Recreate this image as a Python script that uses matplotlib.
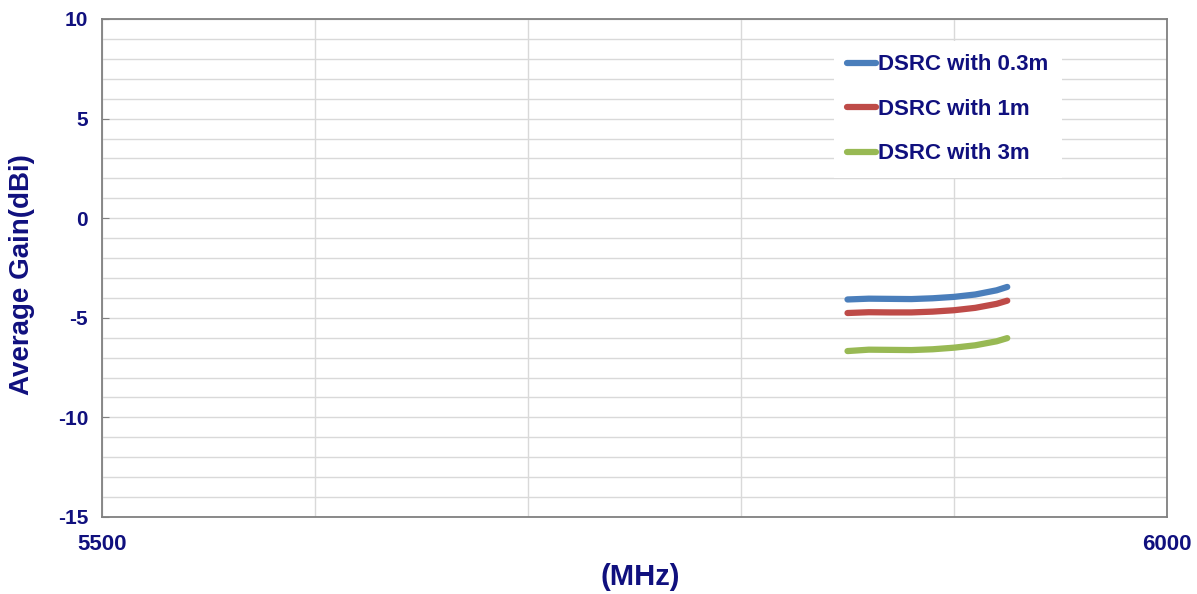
import matplotlib
matplotlib.use("Agg")
import matplotlib.pyplot as plt
from matplotlib.ticker import MultipleLocator, FixedLocator

freq = [5850, 5860, 5870, 5880, 5890, 5900, 5910, 5920, 5925]
gain_03m = [-4.08, -4.04, -4.05, -4.06, -4.02, -3.95, -3.83, -3.62, -3.45]
gain_1m = [-4.76, -4.72, -4.73, -4.73, -4.69, -4.62, -4.50, -4.30, -4.14]
gain_3m = [-6.67, -6.60, -6.61, -6.62, -6.58, -6.50, -6.38, -6.18, -6.02]
labels = ["DSRC with 0.3m", "DSRC with 1m", "DSRC with 3m"]
colors = ["#4a7ebb", "#be4b48", "#98b954"]
xtick_vals = [5500, 5600, 5700, 5800, 5900, 6000]
xtick_labels = ["5500", "", "", "", "", "6000"]
ytick_vals = [-15, -10, -5, 0, 5, 10]

navy = "#10107e"
plt.rcParams['font.family'] = ['Liberation Sans', 'DejaVu Sans']
plt.rcParams['axes.unicode_minus'] = False

fig = plt.figure(figsize=(11.97, 5.94), dpi=100)
ax = fig.add_axes([102/1197, 1-517/594, 1065/1197, 498/594])

for y, lab, c in zip([gain_03m, gain_1m, gain_3m], labels, colors):
    ax.plot(freq, y, color=c, lw=4.5, label=lab, solid_capstyle='round')

ax.set_xlim(5500, 6000)
ax.set_ylim(-15, 10)
ax.xaxis.set_major_locator(FixedLocator(xtick_vals))
ax.set_xticklabels(xtick_labels)
ax.yaxis.set_major_locator(FixedLocator(ytick_vals))
ax.yaxis.set_minor_locator(MultipleLocator(1))
ax.grid(True, which='both', axis='y', color='#d9d9d9', lw=1)
ax.grid(True, which='major', axis='x', color='#d9d9d9', lw=1)
ax.set_axisbelow(True)
for s in ax.spines.values():
    s.set_color('#808080')
    s.set_linewidth(1.3)

ax.tick_params(axis='x', length=0, pad=12, labelsize=16, labelcolor=navy)
ax.tick_params(axis='y', which='major', length=5, direction='in', color='#808080',
               pad=10, labelsize=15, labelcolor=navy)
ax.tick_params(axis='y', which='minor', length=0)
for t in ax.get_xticklabels() + ax.get_yticklabels():
    t.set_fontweight('bold')

ax.set_ylabel("Average Gain(dBi)", fontsize=20, fontweight='bold', color=navy)
ax.yaxis.set_label_coords((35 - 102) / 1065, (517 - 275) / 498)
ax.set_xlabel("(MHz)", fontsize=21, fontweight='bold', color=navy)
ax.xaxis.set_label_coords((640 - 102) / 1065, (517 - 563) / 498)

leg = ax.legend(loc='upper left', bbox_to_anchor=((834 - 102) / 1065, (517 - 41) / 498),
                frameon=True, handlelength=1.3, handletextpad=0.1,
                labelspacing=1.06, borderpad=0.6, borderaxespad=0,
                prop={'weight': 'bold', 'size': 16})
leg.get_frame().set_facecolor('white')
leg.get_frame().set_edgecolor('none')
leg.get_frame().set_alpha(1)
leg.get_frame().set_boxstyle('square', pad=0)
for t in leg.get_texts():
    t.set_color(navy)

fig.savefig("out.png", dpi=100)
